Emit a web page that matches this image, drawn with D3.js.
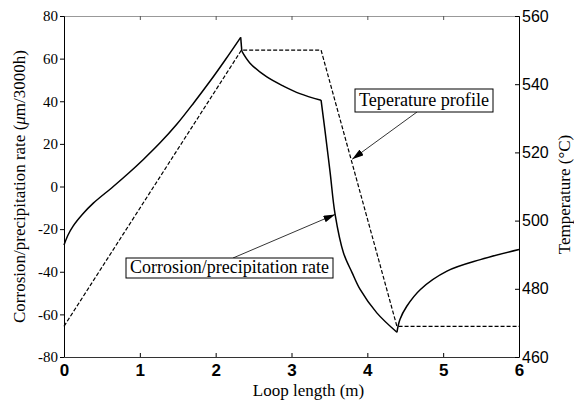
<!DOCTYPE html>
<html lang="en">
<head>
<meta charset="UTF-8">
<title>Corrosion rate and temperature</title>
<script src="https://cdn.jsdelivr.net/npm/d3@7"></script>
<style>
    body { margin: 0; background: #fff; }
    svg { display: block; }
</style>
</head>
<body>
<svg id="chart" width="574" height="400"></svg>
<script>
// loop position (m) and corrosion/precipitation rate (um/3000h)
const rateX = [0, 0.05, 0.12, 0.25, 0.39, 0.65, 0.85, 1.05, 1.27, 1.49, 1.71, 1.93, 2.13, 2.33,
    2.345, 2.45, 2.67, 2.9, 3.11, 3.39, 3.44, 3.51, 3.575, 3.685, 3.8, 3.905, 4.125, 4.39,
    4.43, 4.52, 4.7, 5.05, 5.49, 6.0];
const rateY = [-27.5, -23, -18.6, -12.8, -7.7, 0, 6.2, 12.8, 20.6, 29.3, 39.2, 49.6, 59.6, 70,
    63.5, 58, 51.5, 47, 43.6, 40.5, 26.7, 6.4, -13.1, -31.1, -40.5, -48.3, -59.3, -68.4,
    -62.4, -56.2, -48.3, -39.7, -34.3, -29.6];
// sharp corners of the rate curve (m)
const rateBreaks = [2.33, 2.345, 3.39, 4.39];

// loop position (m) and temperature (C)
const tempX = [0, 2.34, 3.39, 4.39, 6];
const tempY = [469, 550, 550, 469, 469];

const xTicks = [0, 1, 2, 3, 4, 5, 6];
const rateTicks = [-80, -60, -40, -20, 0, 20, 40, 60, 80];
const tempTicks = [460, 480, 500, 520, 540, 560];

// callouts: label, arrow tip (x in m, value on its axis), box position
const notes = [
    { text: "Teperature profile", tipX: 3.8, tipY: 518, axis: "temp", bx: 355, by: 89, bw: 138, bh: 23, fromX: 417, base: 106 },
    { text: "Corrosion/precipitation rate", tipX: 3.575, tipY: -13.1, axis: "rate", bx: 126, by: 258, bw: 207, bh: 20, fromX: 233, base: 273 }
];

const svg = d3.select("#chart");
const m = { left: 64, right: 519, top: 16, bottom: 357 };
const serif = "'Liberation Serif', 'Times New Roman', serif";
const sans = "'Liberation Sans', Arial, sans-serif";
const plain = d => String(d);

const x = d3.scaleLinear().domain([0, 6]).range([m.left, m.right]);
const yRate = d3.scaleLinear().domain([-80, 80]).range([m.bottom, m.top]);
const yTemp = d3.scaleLinear().domain([460, 560]).range([m.bottom, m.top]);

// axes
const topAxis = svg.append("g").attr("transform", `translate(0,${m.top})`)
    .call(d3.axisTop(x).tickValues(xTicks).tickSizeInner(-4).tickSizeOuter(0).tickFormat(""));
topAxis.select(".domain").attr("stroke", "#999");
topAxis.selectAll(".tick line").attr("stroke", "#555");

const bottomAxis = svg.append("g").attr("transform", `translate(0,${m.bottom})`)
    .call(d3.axisBottom(x).tickValues(xTicks).tickFormat(plain).tickSizeInner(-4).tickSizeOuter(0).tickPadding(7));
bottomAxis.select(".domain").attr("stroke", "#333");
bottomAxis.selectAll("text").attr("font-family", sans).attr("font-size", 17).attr("font-weight", "bold").attr("fill", "#000");

const leftAxis = svg.append("g").attr("transform", `translate(${m.left},0)`)
    .call(d3.axisLeft(yRate).tickValues(rateTicks).tickFormat(plain).tickSizeInner(4).tickSizeOuter(0).tickPadding(2));
leftAxis.select(".domain").attr("stroke", "#000");
leftAxis.selectAll("text").attr("font-family", serif).attr("font-size", 15).attr("fill", "#000");

const rightAxis = svg.append("g").attr("transform", `translate(${m.right},0)`)
    .call(d3.axisRight(yTemp).tickValues(tempTicks).tickFormat(plain).tickSizeInner(-4).tickSizeOuter(0).tickPadding(3));
rightAxis.select(".domain").attr("stroke", "#000");
rightAxis.selectAll("text").attr("font-family", sans).attr("font-size", 16).attr("fill", "#000");

// axis titles
svg.append("text")
    .attr("transform", `translate(25,${(m.top + m.bottom) / 2}) rotate(-90)`)
    .attr("text-anchor", "middle").attr("font-family", serif).attr("font-size", 17)
    .html("Corrosion/precipitation rate (<tspan font-style='italic'>μ</tspan>m/3000h)");

svg.append("text")
    .attr("transform", `translate(570,${(m.top + m.bottom) / 2 + 8}) rotate(-90)`)
    .attr("text-anchor", "middle").attr("font-family", serif).attr("font-size", 17)
    .text("Temperature (°C)");

svg.append("text")
    .attr("x", (m.left + m.right) / 2 + 17).attr("y", 396)
    .attr("text-anchor", "middle").attr("font-family", serif).attr("font-size", 17)
    .text("Loop length (m)");

// series: rate curve is smooth between its corners
const ratePts = rateX.map((v, i) => [v, rateY[i]]);
const cuts = [0, ...rateBreaks.map(b => rateX.indexOf(b)), rateX.length - 1];
const rateLine = d3.line().x(d => x(d[0])).y(d => yRate(d[1])).curve(d3.curveCatmullRom.alpha(0.5));
for (let k = 0; k < cuts.length - 1; k++) {
    svg.append("path").datum(ratePts.slice(cuts[k], cuts[k + 1] + 1)).attr("d", rateLine)
        .attr("fill", "none").attr("stroke", "#000").attr("stroke-width", 1.5)
        .attr("stroke-linejoin", "miter");
}

const tempLine = d3.line().x((d, i) => x(tempX[i])).y(d => yTemp(d));
svg.append("path").datum(tempY).attr("d", tempLine)
    .attr("fill", "none").attr("stroke", "#000").attr("stroke-width", 1.2).attr("stroke-dasharray", "4,2");

// arrow marker
svg.append("defs").append("marker")
    .attr("id", "head").attr("viewBox", "0 0 10 6").attr("refX", 10).attr("refY", 3)
    .attr("markerWidth", 12).attr("markerHeight", 7).attr("markerUnits", "userSpaceOnUse")
    .attr("orient", "auto")
    .append("path").attr("d", "M0,0L10,3L0,6Z").attr("fill", "#000");

notes.forEach(n => {
    const ty = n.axis === "temp" ? yTemp(n.tipY) : yRate(n.tipY);
    svg.append("line")
        .attr("x1", n.fromX).attr("y1", n.by + (n.axis === "temp" ? n.bh : 0))
        .attr("x2", x(n.tipX)).attr("y2", ty)
        .attr("stroke", "#000").attr("stroke-width", 0.8).attr("marker-end", "url(#head)");
    svg.append("rect").attr("x", n.bx).attr("y", n.by).attr("width", n.bw).attr("height", n.bh)
        .attr("fill", "#fff").attr("stroke", "#000").attr("stroke-width", 1);
    svg.append("text").attr("x", n.bx + n.bw / 2).attr("y", n.base)
        .attr("text-anchor", "middle").attr("font-family", serif).attr("font-size", 18)
        .attr("textLength", n.bw - 8).attr("lengthAdjust", "spacingAndGlyphs")
        .text(n.text);
});
</script>
</body>
</html>
